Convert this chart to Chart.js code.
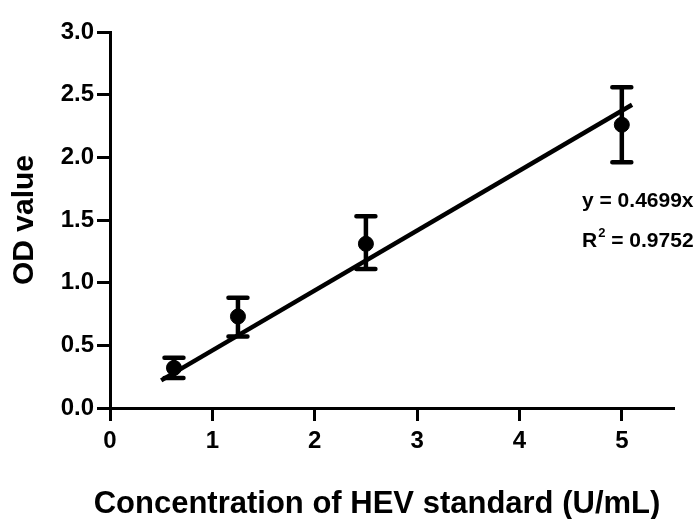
<!DOCTYPE html>
<html>
<head>
<meta charset="utf-8">
<script src="https://cdn.jsdelivr.net/npm/chart.js@4.4.0/dist/chart.umd.min.js"></script>
<style>
html, body { margin: 0; padding: 0; background: #fff; }
#wrap { width: 699px; height: 519px; }
</style>
</head>
<body>
<div id="wrap"><canvas id="c" width="699" height="519"></canvas></div>
<script>
// данные
const concX = [0.625, 1.25, 2.5, 5];
const odMean = [0.32, 0.73, 1.31, 2.26];
const odLow = [0.24, 0.57, 1.11, 1.96];
const odHigh = [0.40, 0.88, 1.53, 2.56];
const fitX = [0.5, 5.1];
const fitY = [0.22, 2.42];
const xTicks = [0, 1, 2, 3, 4, 5];
const yTicks = [0, 0.5, 1.0, 1.5, 2.0, 2.5, 3.0];
const eqText = 'y = 0.4699x';
const r2Text = '0.9752';
const xTitle = 'Concentration of HEV standard (U/mL)';

const FONT = '"Liberation Sans", Arial, sans-serif';

// усы ошибок
const errorBars = {
	id: 'errorBars',
	afterDatasetsDraw(chart){
		const ctx = chart.ctx;
		const sx = chart.scales.x, sy = chart.scales.y;
		ctx.save();
		ctx.strokeStyle = '#000';
		ctx.lineWidth = 4.5;
		ctx.lineCap = 'round';
		concX.forEach((v, i) => {
			const px = sx.getPixelForValue(v);
			const pLo = sy.getPixelForValue(odLow[i]);
			const pHi = sy.getPixelForValue(odHigh[i]);
			ctx.beginPath();
			ctx.moveTo(px, pLo); ctx.lineTo(px, pHi);
			ctx.moveTo(px - 9.5, pLo); ctx.lineTo(px + 9.5, pLo);
			ctx.moveTo(px - 9.5, pHi); ctx.lineTo(px + 9.5, pHi);
			ctx.stroke();
		});
		ctx.restore();
	}
};

// подпись уравнения и заголовок оси X (он сдвинут левее центра области)
const labels = {
	id: 'labels',
	afterDraw(chart){
		const ctx = chart.ctx;
		ctx.save();
		ctx.fillStyle = '#000';
		ctx.textBaseline = 'middle';
		ctx.textAlign = 'left';
		ctx.font = 'bold 21px ' + FONT;
		const x0 = 582;
		ctx.fillText(eqText, x0, 201);
		ctx.fillText('R', x0, 241);
		let w = ctx.measureText('R').width;
		ctx.font = 'bold 13px ' + FONT;
		ctx.fillText('2', x0 + w + 1, 233);
		w += ctx.measureText('2').width + 1;
		ctx.font = 'bold 21px ' + FONT;
		ctx.fillText(' = ' + r2Text, x0 + w, 241);

		ctx.textAlign = 'center';
		ctx.font = 'bold 31px ' + FONT;
		ctx.fillText(xTitle, 377, 504);
		ctx.restore();
	}
};

new Chart(document.getElementById('c'), {
	type: 'scatter',
	data: {
		datasets: [
			{
				data: concX.map((v, i) => ({x: v, y: odMean[i]})),
				backgroundColor: '#000',
				borderColor: '#000',
				pointRadius: 7.5,
				pointHoverRadius: 7.5,
				order: 1
			},
			{
				type: 'line',
				data: fitX.map((v, i) => ({x: v, y: fitY[i]})),
				borderColor: '#000',
				borderWidth: 4.5,
				pointRadius: 0,
				fill: false,
				order: 2
			}
		]
	},
	options: {
		responsive: false,
		animation: false,
		layout: { padding: { top: 32, right: 26, left: 0, bottom: 0 } },
		plugins: { legend: { display: false }, tooltip: { enabled: false } },
		scales: {
			x: {
				type: 'linear',
				min: 0, max: 5.5,
				afterBuildTicks(s){ s.ticks = xTicks.map(v => ({value: v})); },
				afterFit(s){ s.height = 111; },
				border: { color: '#000', width: 3 },
				grid: { drawOnChartArea: false, color: '#000', lineWidth: 3, tickLength: 13 },
				ticks: { color: '#000', font: { family: FONT, size: 24, weight: 'bold' }, padding: 6, maxRotation: 0 },
				title: { display: false }
			},
			y: {
				type: 'linear',
				min: 0, max: 3,
				afterBuildTicks(s){ s.ticks = yTicks.map(v => ({value: v})); },
				afterFit(s){ s.width = 110; },
				border: { color: '#000', width: 3 },
				grid: { drawOnChartArea: false, color: '#000', lineWidth: 3, tickLength: 13 },
				ticks: { color: '#000', font: { family: FONT, size: 24, weight: 'bold' }, padding: 3,
					callback: v => v.toFixed(1) },
				title: { display: true, text: 'OD value', color: '#000',
					font: { family: FONT, size: 30, weight: 'bold', lineHeight: 1.2 }, padding: { top: 7, bottom: 0 } }
			}
		}
	},
	plugins: [errorBars, labels]
});
</script>
</body>
</html>
